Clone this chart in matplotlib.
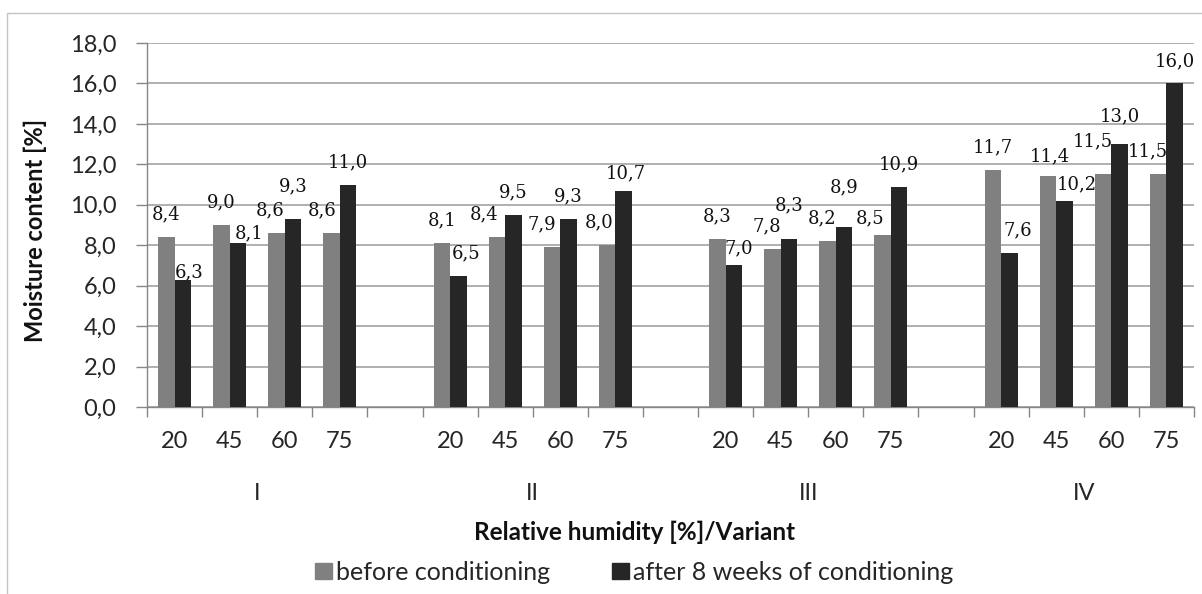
import matplotlib
matplotlib.use("Agg")
import matplotlib.pyplot as plt
from matplotlib.patches import Patch, Rectangle
from matplotlib.ticker import FuncFormatter

# data
variants = ["I", "II", "III", "IV"]
humidity = ["20", "45", "60", "75"]
before = [8.4, 9.0, 8.6, 8.6,
          8.1, 8.4, 7.9, 8.0,
          8.3, 7.8, 8.2, 8.5,
          11.7, 11.4, 11.5, 11.5]
after = [6.3, 8.1, 9.3, 11.0,
         6.5, 9.5, 9.3, 10.7,
         7.0, 8.3, 8.9, 10.9,
         7.6, 10.2, 13.0, 16.0]

# hand nudges of the value labels (pixels), as placed in the original
before_nudge = [(0, 0), (0, 0), (-6, 0), (-9, 0),
                (0, 0), (-13, 0), (-10, 0), (-8, 0),
                (0, 0), (-6, 0), (-5, 0), (-13, -6),
                (0, 0), (2, -2), (-10, 10), (-10, 0)]
after_nudge = [(6, -15), (11, -13), (0, 10), (0, 0),
               (8, 0), (0, 0), (0, 0), (2, -5),
               (5, -6), (0, 11), (0, 17), (0, 0),
               (8, 0), (12, -6), (0, 5), (0, -1)]

plt.rcParams['font.family'] = ['Lato', 'DejaVu Sans']

W, H = 1202, 594
fig = plt.figure(figsize=(W / 100, H / 100), dpi=100)
ax = fig.add_axes([147 / W, 1 - 407 / H, (1194 - 147) / W, (407 - 43) / H])

# slot positions: 4 bars per variant, one empty slot between variants
pos = [g * 5 + i for g in range(len(variants)) for i in range(len(humidity))]
bw = 0.3
gray = '#808080'
dark = '#262626'
ax.bar([p - bw / 2 for p in pos], before, width=bw, color=gray, zorder=3)
ax.bar([p + bw / 2 for p in pos], after, width=bw, color=dark, zorder=3)

def fmt(v):
    return f"{v:.1f}".replace('.', ',')

for p, v, (dx, dy) in zip(pos, before, before_nudge):
    ax.annotate(fmt(v), xy=(p - bw / 2, v), xytext=(dx, 22.6 + dy),
                textcoords='offset pixels', ha='center', va='center',
                fontsize=13, family='DejaVu Serif', color='#111111', zorder=4)
for p, v, (dx, dy) in zip(pos, after, after_nudge):
    ax.annotate(fmt(v), xy=(p + bw / 2, v), xytext=(dx, 22.6 + dy),
                textcoords='offset pixels', ha='center', va='center',
                fontsize=13, family='DejaVu Serif', color='#111111', zorder=4)

ax.set_xlim(-0.5, 18.5)
ax.set_ylim(0, 18)
ax.set_yticks(range(0, 19, 2))
ax.yaxis.set_major_formatter(FuncFormatter(lambda v, _: fmt(v)))
ax.grid(axis='y', color='#9a9a9a', lw=1.1, zorder=0)

# boundary ticks on the category axis, labels in the slot centres
ax.set_xticks([x - 0.5 for x in range(20)])
ax.set_xticklabels([])
ax.set_xticks(pos, minor=True)
ax.set_xticklabels(humidity * len(variants), minor=True)
ax.tick_params(axis='x', which='major', length=7, width=1, color='#868686')
ax.tick_params(axis='x', which='minor', length=0, pad=17, labelsize=17, labelcolor='#262626')
ax.tick_params(axis='y', length=8, width=1, color='#868686', pad=14,
               labelsize=17, labelcolor='#262626')

for g, name in enumerate(variants):
    ax.annotate(name, xy=(g * 5 + 1.5, 0), xycoords=('data', 'axes fraction'),
                xytext=(0, -87), textcoords='offset pixels', ha='center', va='center',
                fontsize=17, color='#262626')

for s in ['top', 'right']:
    ax.spines[s].set_visible(False)
for s in ['left', 'bottom']:
    ax.spines[s].set_color('#868686')
    ax.spines[s].set_linewidth(1)

fig.text(35 / W, 1 - 230 / H, 'Moisture content [%]', rotation=90, ha='center',
         va='center', fontsize=17, fontweight='bold', color='#111111')
fig.text(635 / W, 1 - 532 / H, 'Relative humidity [%]/Variant', ha='center',
         va='center', fontsize=17.5, fontweight='bold', color='#111111')

handles = [Patch(color=gray, label='before conditioning'),
           Patch(color=dark, label='after 8 weeks of conditioning')]
fig.legend(handles=handles, loc='center', bbox_to_anchor=(634 / W, 1 - 572 / H),
           ncol=2, frameon=False, fontsize=18, handlelength=0.68, handleheight=0.6,
           handletextpad=0.15, columnspacing=2.5, labelcolor='#262626')

# light chart-area frame
fig.add_artist(Rectangle((7 / W, -0.1), 1.2, (H - 13) / H + 0.1, transform=fig.transFigure,
                         fill=False, edgecolor='#c4c4c4', lw=1))

fig.savefig('out.png', dpi=100)
